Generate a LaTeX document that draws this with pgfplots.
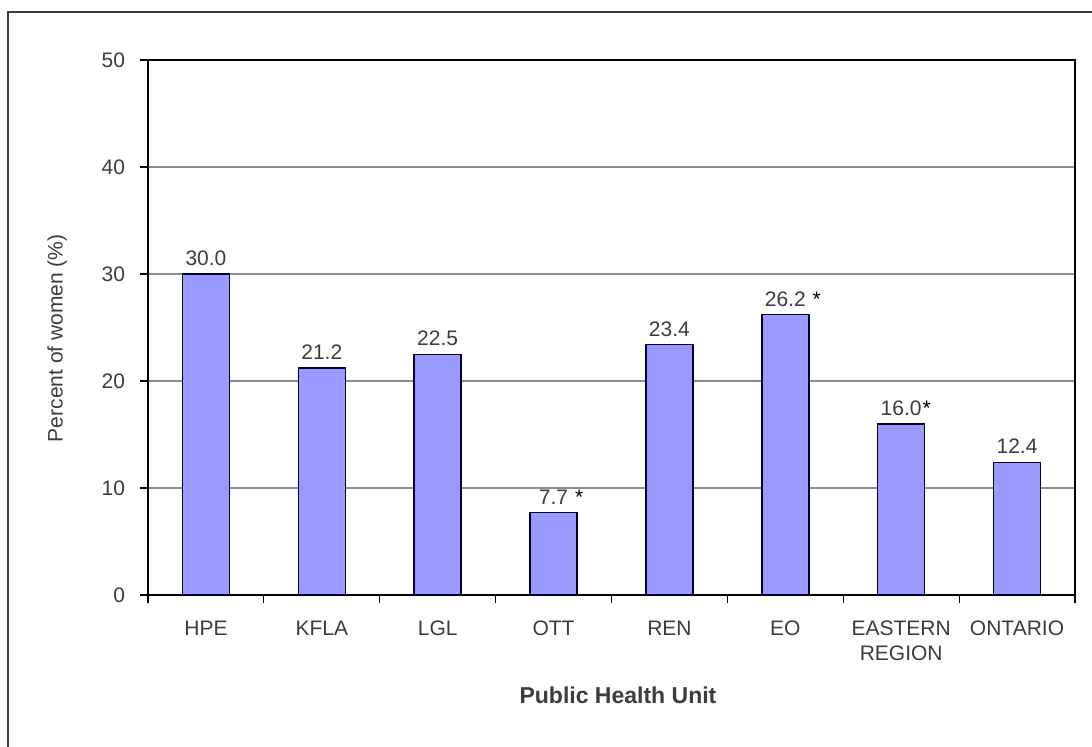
\documentclass[border=0pt]{standalone}
\usepackage{fontspec}
\setmainfont{Liberation Sans}
\usepackage{pgfplots}
\pgfplotsset{compat=1.18}
\definecolor{barfill}{RGB}{153,153,255}
\definecolor{txt}{RGB}{60,60,60}
\definecolor{gridc}{RGB}{140,140,140}
\definecolor{framec}{RGB}{60,60,60}
\newcommand{\starmark}[1]{\rlap{\hspace{#1}\textcolor{black}{*}}}
\begin{document}
\begin{tikzpicture}
\path[use as bounding box] (0,0) rectangle (546pt,373pt);
\draw[line width=1pt, framec] (4pt,-20pt) rectangle (570pt,367pt);
\begin{axis}[
  at={(74pt,75.5pt)}, anchor=south west,
  scale only axis, width=463.5pt, height=267.5pt,
  ybar, bar width=23.5pt,
  xmin=-0.5, xmax=7.5, ymin=0, ymax=50,
  xtick={-0.5,0.5,...,7.5},
  x tick label as interval,
  xticklabels={HPE,KFLA,LGL,OTT,REN,EO,{EASTERN\\REGION},ONTARIO},
  ytick={0,10,...,50},
  xtick pos=bottom, ytick pos=left,
  tick align=outside, major tick length=4pt,
  tick style={black, line width=0.6pt},
  ymajorgrids, grid style={gridc, line width=0.6pt},
  axis line style={black, line width=0.7pt},
  /pgf/number format/assume math mode=true,
  yticklabel style={font=\fontsize{10.5}{12}\selectfont, text=txt, xshift=-4pt},
  xticklabel style={font=\fontsize{10.5}{12.5}\selectfont, text=txt, align=center, yshift=-5.5pt},
  ylabel={Percent of women (\%)},
  ylabel style={at={(axis description cs:-0.098,0.48)}, anchor=center, font=\fontsize{10.5}{12}\selectfont, text=txt},
  xlabel={Public Health Unit},
  xlabel style={at={(axis description cs:0.507,-0.187)}, anchor=center, font=\fontsize{11.5}{13}\selectfont\bfseries, text=txt},
  point meta=explicit symbolic,
  nodes near coords,
  nodes near coords style={font=\fontsize{10.5}{12}\selectfont, text=txt, anchor=south, yshift=0.5pt},
]
\addplot[fill=barfill, draw=black!85!blue, line width=0.7pt] coordinates {
  (0,30.0) [30.0]
  (1,21.2) [21.2]
  (2,22.5) [22.5]
  (3,7.7)  [7.7\starmark{3.5pt}]
  (4,23.4) [23.4]
  (5,26.2) [26.2\starmark{3.5pt}]
  (6,16.0) [16.0\starmark{0.5pt}]
  (7,12.4) [12.4]
};
\draw[black, line width=1.4pt] (rel axis cs:0,0) -- (rel axis cs:0,1);
\end{axis}
\end{tikzpicture}
\end{document}
